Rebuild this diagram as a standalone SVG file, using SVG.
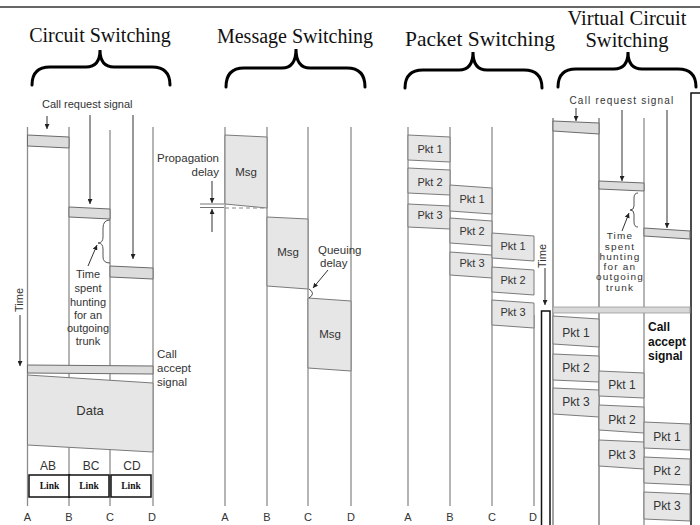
<svg xmlns="http://www.w3.org/2000/svg" width="700" height="525" viewBox="0 0 700 525">
<defs>
<marker id="ah" viewBox="0 0 6 6" refX="6" refY="3" markerWidth="5" markerHeight="5" orient="auto" markerUnits="userSpaceOnUse"><path d="M0,0 L6,3 L0,6 z" fill="#222"/></marker>
<style>
.ti{font-family:"Liberation Serif","Times New Roman",serif;font-size:20px;fill:#111;text-anchor:middle}
.br{fill:none;stroke:#000;stroke-width:3;stroke-linecap:round}
.ln{stroke:#8c8c8c;stroke-width:1.3;fill:none}
.bx{fill:#e6e6e6;stroke:#7a7a7a;stroke-width:1}
.st{fill:#dcdcdc;stroke:#6a6a6a;stroke-width:1}
.t{font-family:"Liberation Sans",Arial,sans-serif;font-size:11px;fill:#333}
.c{text-anchor:middle}
.ar{stroke:#333;stroke-width:1;fill:none;marker-end:url(#ah)}
.lk{fill:#fff;stroke:#111;stroke-width:1.5}
.lt{font-family:"Liberation Serif","Times New Roman",serif;font-size:9.5px;font-weight:bold;fill:#111;text-anchor:middle}
.vt{font-family:"Liberation Sans",Arial,sans-serif;font-size:10px;fill:#333;text-anchor:middle;letter-spacing:1.2px}
</style>
</defs>
<rect width="700" height="525" fill="#fff"/>
<line x1="0" y1="7" x2="700" y2="7" stroke="#333" stroke-width="1.5"/>

<g id="titles">
<text class="ti" x="100" y="42">Circuit Switching</text>
<path class="br" d="M32,85 Q32,67 50,67 L86,67 Q100,67 100,50 Q100,67 114,67 L152,67 Q170,67 170,85"/>
<text class="ti" x="295" y="43">Message Switching</text>
<path class="br" d="M226,87 Q226,68 244,68 L282,68 Q296,68 296,49 Q296,68 310,68 L347,68 Q365,68 365,87"/>
<text class="ti" x="480" y="46" style="font-size:21.5px">Packet Switching</text>
<path class="br" d="M405,88 Q405,70 423,70 L459,70 Q473,70 473,52 Q473,70 487,70 L524,70 Q542,70 542,88"/>
<text class="ti" x="627" y="25" style="font-size:20.5px">Virtual Circuit</text>
<text class="ti" x="627" y="47" style="font-size:20.5px">Switching</text>
<path class="br" d="M558,87 Q558,69 576,69 L614,69 Q628,69 628,52 Q628,69 642,69 L678,69 Q696,69 696,87"/>
</g>

<g id="circuit">
<line class="ln" x1="27.5" y1="127" x2="27.5" y2="506"/>
<line class="ln" x1="69" y1="127" x2="69" y2="506"/>
<line class="ln" x1="110" y1="130" x2="110" y2="506"/>
<line class="ln" x1="153" y1="127" x2="153" y2="506"/>
<polygon class="st" points="27.5,135 69,137 69,148 27.5,146"/>
<polygon class="st" points="69,207 110,209 110,219 69,217"/>
<polygon class="st" points="110,266 153,268 153,279 110,277"/>
<polygon class="st" points="27.5,365 153,366 153,374 27.5,373"/>
<polygon class="bx" points="27.5,375 153,383 153,452 27.5,445"/>
<text class="t" x="42" y="108">Call request signal</text>
<path d="M110,220 Q103,220 103,228 L103,237 Q103,243 98,243 Q103,243 103,249 L103,257 Q103,263 110,263" fill="none" stroke="#555" stroke-width="1"/>
<text class="t c"><tspan x="88" y="278">Time</tspan><tspan x="88" y="292">spent</tspan><tspan x="88" y="306">hunting</tspan><tspan x="88" y="319">for an</tspan><tspan x="88" y="332">outgoing</tspan><tspan x="88" y="345">trunk</tspan></text>
<text class="t" transform="translate(23,300) rotate(-90)" text-anchor="middle">Time</text>
<text class="t" style="font-size:11.5px"><tspan x="157" y="358">Call</tspan><tspan x="157" y="372">accept</tspan><tspan x="157" y="386">signal</tspan></text>
<text class="t c" x="90" y="415" style="font-size:13px">Data</text>
<text class="t c" x="48" y="470" style="font-size:12px">AB</text>
<text class="t c" x="91" y="470" style="font-size:12px">BC</text>
<text class="t c" x="132" y="470" style="font-size:12px">CD</text>
<rect class="lk" x="29" y="475" width="41" height="22"/>
<rect class="lk" x="69" y="475" width="40" height="22"/>
<rect class="lk" x="111" y="475" width="40" height="22"/>
<text class="lt" x="49.5" y="489">Link</text>
<text class="lt" x="89" y="489">Link</text>
<text class="lt" x="131" y="489">Link</text>
<text class="t c" x="27.5" y="521">A</text>
<text class="t c" x="69" y="521">B</text>
<text class="t c" x="110" y="521">C</text>
<text class="t c" x="152" y="521">D</text>
</g>

<g id="message">
<line class="ln" x1="225" y1="127" x2="225" y2="506"/>
<line class="ln" x1="267" y1="127" x2="267" y2="506"/>
<line class="ln" x1="308" y1="127" x2="308" y2="506"/>
<line class="ln" x1="351" y1="127" x2="351" y2="506"/>
<polygon class="bx" points="225,135 267,137 267,208 225,204"/>
<polygon class="bx" points="267,217 308,219 308,289 267,286"/>
<polygon class="bx" points="308,298 351,301 351,371 308,368"/>
<text class="t c" x="246" y="176" style="font-size:11.5px">Msg</text>
<text class="t c" x="288" y="256" style="font-size:11.5px">Msg</text>
<text class="t c" x="330" y="338" style="font-size:11.5px">Msg</text>
<text class="t" x="219" y="162" text-anchor="end" style="font-size:11.5px">Propagation</text>
<text class="t" x="219" y="176" text-anchor="end" style="font-size:11.5px">delay</text>
<line x1="200" y1="204" x2="224" y2="204" stroke="#777" stroke-width="1"/>
<line x1="200" y1="207.5" x2="224" y2="207.5" stroke="#777" stroke-width="1"/>
<line x1="225" y1="208" x2="267" y2="208" stroke="#888" stroke-width="1" stroke-dasharray="4,3"/>
<text class="t" x="318" y="254" style="font-size:11.5px">Queuing</text>
<text class="t" x="320" y="267" style="font-size:11.5px">delay</text>
<path d="M309,289 Q316,293.5 309,298" fill="none" stroke="#444" stroke-width="1"/>
<text class="t c" x="225" y="521">A</text>
<text class="t c" x="267" y="521">B</text>
<text class="t c" x="308" y="521">C</text>
<text class="t c" x="351" y="521">D</text>
</g>

<g id="packet">
<line class="ln" x1="408" y1="127" x2="408" y2="506"/>
<line class="ln" x1="450" y1="127" x2="450" y2="506"/>
<line class="ln" x1="492" y1="127" x2="492" y2="506"/>
<line class="ln" x1="534" y1="315" x2="534" y2="506"/>
<polygon class="bx" points="408,135 450,137 450,162 408,160"/>
<polygon class="bx" points="408,168 450,170 450,195 408,193"/>
<polygon class="bx" points="408,204 450,206 450,229 408,227"/>
<polygon class="bx" points="450,185 492,188 492,214 450,211"/>
<polygon class="bx" points="450,218 492,221 492,246 450,243"/>
<polygon class="bx" points="450,252 492,255 492,278 450,275"/>
<polygon class="bx" points="492,233 534,236 534,261 492,258"/>
<polygon class="bx" points="492,267 534,270 534,295 492,292"/>
<polygon class="bx" points="492,300 534,303 534,328 492,325"/>
<g class="t c">
<text x="430" y="153">Pkt 1</text><text x="430" y="186">Pkt 2</text><text x="430" y="219">Pkt 3</text>
<text x="472" y="203">Pkt 1</text><text x="472" y="235">Pkt 2</text><text x="472" y="267">Pkt 3</text>
<text x="513" y="250">Pkt 1</text><text x="513" y="284">Pkt 2</text><text x="513" y="316">Pkt 3</text>
</g>
<text class="t" transform="translate(546,256) rotate(-90)" text-anchor="middle">Time</text>
<rect x="541.5" y="311" width="8.5" height="220" fill="#fff" stroke="#111" stroke-width="1.5"/>
<text class="t c" x="408" y="521">A</text>
<text class="t c" x="450" y="521">B</text>
<text class="t c" x="492" y="521">C</text>
<text class="t c" x="533" y="521">D</text>
</g>

<g id="virtual">
<line class="ln" x1="553" y1="118" x2="553" y2="525" style="stroke-width:1.6"/>
<line class="ln" x1="599" y1="118" x2="599" y2="525" style="stroke-width:1.6"/>
<line class="ln" x1="644" y1="118" x2="644" y2="525"/>
<path d="M691,525 L691,93 L700,93" fill="none" stroke="#111" stroke-width="1.5"/>
<polygon class="st" points="553,121 599,123 599,134 553,131"/>
<polygon class="st" points="599,181 644,183 644,191 599,189"/>
<polygon class="st" points="644,228 690,231 690,239 644,236"/>
<rect x="553" y="307" width="137" height="6" fill="#d8d8d8" stroke="#9a9a9a" stroke-width="0.8"/>
<text class="vt" x="622" y="104">Call request signal</text>
<path d="M638,193 Q634,193 634,198 L634,206 Q634,210 630,210 Q634,210 634,214 L634,222 Q634,227 638,227" fill="none" stroke="#555" stroke-width="1"/>
<g transform="translate(0,0) scale(1,0.85)">
<text class="vt"><tspan x="620" y="281">Time</tspan><tspan x="620" y="294">spent</tspan><tspan x="620" y="306">hunting</tspan><tspan x="620" y="318">for an</tspan><tspan x="620" y="330">outgoing</tspan><tspan x="620" y="342">trunk</tspan></text>
</g>
<text style="font-family:'Liberation Sans',Arial,sans-serif;font-size:12px;font-weight:bold;fill:#111"><tspan x="648" y="331">Call</tspan><tspan x="648" y="346">accept</tspan><tspan x="648" y="360">signal</tspan></text>
<polygon class="bx" points="553,316 599,319 599,347 553,344"/>
<polygon class="bx" points="553,354 599,356 599,382 553,380"/>
<polygon class="bx" points="553,388 599,390 599,417 553,414"/>
<polygon class="bx" points="599,371 644,373 644,398 599,396"/>
<polygon class="bx" points="599,405 644,407 644,433 599,430"/>
<polygon class="bx" points="599,440 644,442 644,469 599,466"/>
<polygon class="bx" points="644,422 690,424 690,450 644,448"/>
<polygon class="bx" points="644,457 690,459 690,485 644,483"/>
<polygon class="bx" points="644,492 690,494 690,521 644,519"/>
<g class="t c" style="font-size:12px">
<text x="576" y="337">Pkt 1</text><text x="576" y="372">Pkt 2</text><text x="576" y="406">Pkt 3</text>
<text x="622" y="389">Pkt 1</text><text x="622" y="424">Pkt 2</text><text x="622" y="459">Pkt 3</text>
<text x="667" y="441">Pkt 1</text><text x="667" y="475">Pkt 2</text><text x="667" y="510">Pkt 3</text>
</g>
</g>

<g id="connectors">
<line class="ar" x1="47" y1="116" x2="47" y2="129"/>
<line class="ar" x1="90" y1="115" x2="90" y2="204"/>
<line class="ar" x1="133" y1="115" x2="133" y2="259"/>
<line class="ar" x1="88" y1="266" x2="97" y2="245"/>
<line class="ar" x1="20" y1="315" x2="20" y2="366"/>
<line class="ar" x1="212" y1="181" x2="212" y2="203"/>
<line class="ar" x1="212" y1="232" x2="212" y2="209"/>
<line class="ar" x1="328" y1="270" x2="313" y2="288"/>
<line class="ar" x1="545" y1="268" x2="545" y2="305"/>
<line class="ar" x1="576" y1="108" x2="576" y2="121"/>
<line class="ar" x1="622" y1="110" x2="622" y2="181"/>
<line class="ar" x1="667" y1="110" x2="667" y2="228"/>
<line class="ar" x1="622" y1="231" x2="629" y2="213"/>
</g>
</svg>
